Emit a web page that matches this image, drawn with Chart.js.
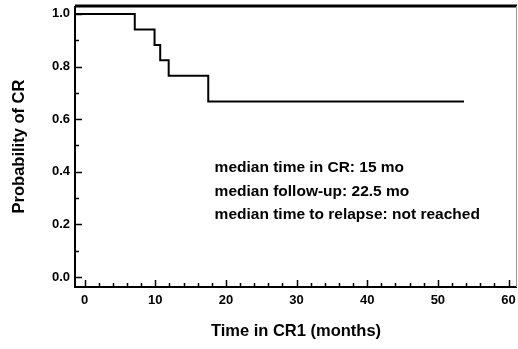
<!DOCTYPE html>
<html><head><meta charset="utf-8">
<script src="https://cdn.jsdelivr.net/npm/chart.js@4/dist/chart.umd.min.js"></script>
<style>html,body{margin:0;padding:0;background:#fff}#wrap{width:518px;height:349px}</style>
</head><body><div id="wrap"><canvas id="c" width="518" height="349"></canvas></div>
<script>
const times = [-1.3, 7.1, 9.9, 10.7, 11.9, 17.5, 53.7];
const survival = [1, 0.941, 0.882, 0.824, 0.765, 0.667, 0.667];
const xTicks = [0, 10, 20, 30, 40, 50, 60];
const yTicks = [0.0, 0.2, 0.4, 0.6, 0.8, 1.0];
const notes = ['median time in CR: 15 mo', 'median follow-up: 22.5 mo', 'median time to relapse: not reached'];

const FONT = "'Liberation Sans', Arial, sans-serif";

const decor = {
  id: 'decor',
  afterDraw(chart) {
    const ctx = chart.ctx, a = chart.chartArea;
    const xs = chart.scales.x, ys = chart.scales.y;
    ctx.save();
    ctx.strokeStyle = '#000';
    ctx.lineWidth = 2;
    ctx.beginPath();
    ctx.moveTo(a.left, a.top); ctx.lineTo(a.left, a.bottom);
    ctx.lineTo(a.right, a.bottom);
    ctx.stroke();
    ctx.lineWidth = 3;
    ctx.beginPath(); ctx.moveTo(a.left, a.top); ctx.lineTo(a.right, a.top); ctx.stroke();
    ctx.strokeStyle = '#999'; ctx.lineWidth = 1;
    ctx.beginPath(); ctx.moveTo(a.right - 0.5, a.top); ctx.lineTo(a.right - 0.5, a.bottom); ctx.stroke();
    ctx.strokeStyle = '#000';
    ctx.lineWidth = 1.5;
    for (let v = 0; v <= 60; v += 2) {
      const px = Math.round(xs.getPixelForValue(v)) + 0.5;
      const len = (v % 10 === 0) ? 7 : 4;
      ctx.beginPath(); ctx.moveTo(px, a.bottom); ctx.lineTo(px, a.bottom - len); ctx.stroke();
    }
    for (let i = 0; i <= 10; i++) {
      const v = i / 10;
      const py = Math.round(ys.getPixelForValue(v)) + 0.5;
      const len = (i % 2 === 0) ? 7 : 4;
      ctx.beginPath(); ctx.moveTo(a.left, py); ctx.lineTo(a.left + len, py); ctx.stroke();
    }
    ctx.fillStyle = '#000';
    ctx.font = 'bold 15.5px ' + FONT;
    ctx.textBaseline = 'middle';
    ctx.textAlign = 'left';
    const tx = xs.getPixelForValue(18.4);
    notes.forEach((t, i) => {
      ctx.fillText(t, tx, ys.getPixelForValue(0.415 - i * 0.09));
    });
    ctx.restore();
  }
};

new Chart(document.getElementById('c'), {
  type: 'line',
  data: {
    datasets: [{
      data: times.map((t, i) => ({ x: t, y: survival[i] })),
      stepped: 'before',
      borderColor: '#000',
      borderWidth: 2,
      pointRadius: 0,
      fill: false
    }]
  },
  options: {
    responsive: false,
    animation: false,
    events: [],
    layout: { autoPadding: false, padding: { top: 6, right: 1, left: 0, bottom: 0 } },
    plugins: { legend: { display: false }, tooltip: { enabled: false } },
    scales: {
      x: {
        type: 'linear',
        min: -1.36, max: 61.2,
        afterFit(s) { s.height = 62; s.paddingLeft = 0; s.paddingRight = 0; },
        afterBuildTicks(s) { s.ticks = xTicks.map(v => ({ value: v })); },
        border: { display: false },
        grid: { display: false, drawTicks: false },
        ticks: {
          color: '#000', padding: 6,
          font: { family: FONT, size: 13, weight: 'bold' },
          callback: v => String(v)
        },
        title: {
          display: true, text: 'Time in CR1 (months)', color: '#000',
          font: { family: FONT, size: 16.5, weight: 'bold' },
          padding: { top: 10, bottom: 8 }
        }
      },
      y: {
        type: 'linear',
        min: -0.038, max: 1.03,
        afterFit(s) { s.width = 75; s.paddingTop = 0; s.paddingBottom = 0; },
        afterBuildTicks(s) { s.ticks = yTicks.map(v => ({ value: v })); },
        border: { display: false },
        grid: { display: false, drawTicks: false },
        ticks: {
          color: '#000', padding: 5,
          font: { family: FONT, size: 13, weight: 'bold' },
          callback: v => v.toFixed(1)
        },
        title: {
          display: true, text: 'Probability of CR', color: '#000',
          font: { family: FONT, size: 16.5, weight: 'bold' },
          padding: { top: 10, bottom: 10 }
        }
      }
    }
  },
  plugins: [decor]
});
</script>
</body></html>
